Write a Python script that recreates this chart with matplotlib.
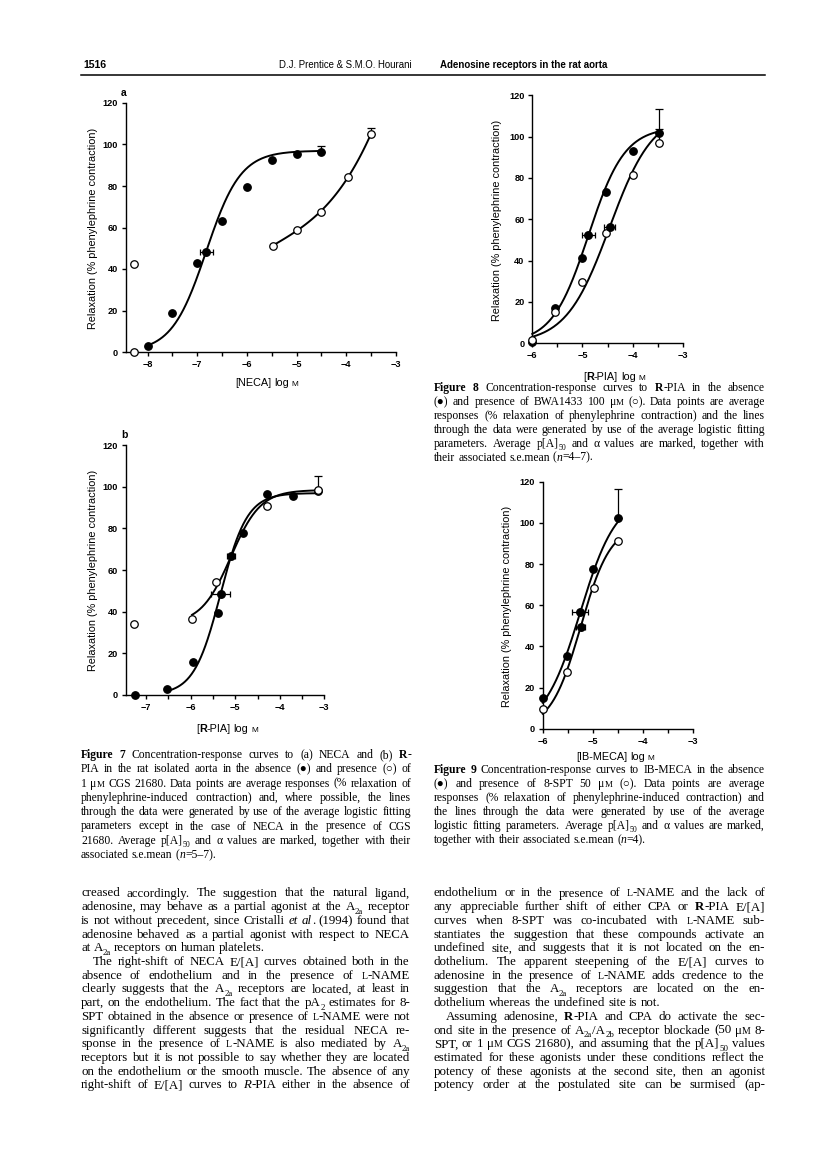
import re
import numpy as np
import matplotlib
matplotlib.use("Agg")
import matplotlib.pyplot as plt
from matplotlib.font_manager import FontProperties
from matplotlib.lines import Line2D

W, H = 816, 1157
SANS = ['Liberation Sans', 'DejaVu Sans']
SERIF = ['Liberation Serif', 'DejaVu Serif']

# ---- Figure 7a: NECA alone (filled) and with 1 uM CGS 21680 (open)
neca_x = [-8, -7.5, -7, -6.5, -6, -5.5, -5, -4.5]
neca_y = [2.9, 18.7, 42.9, 63.2, 79.5, 92.5, 95.4, 96.5]
neca_err_top = 2.9
neca_cgs_x = [-5.48, -4.99, -4.5, -3.97, -3.5]
neca_cgs_y = [51.2, 58.9, 67.7, 84.4, 105.2]
neca_cgs_err_top = 2.7
neca_cgs_basal_x = [-8.27, -8.27]
neca_cgs_basal_y = [0, 42.5]
neca_fit = dict(bottom=0, top=97, mid=-6.82, slope=1.25, lo=-8, hi=-4.5)
neca_p50 = (-6.82, 48.4, 0.13)

# ---- Figure 7b: R-PIA alone (filled) and with CGS 21680 (open)
rpia_x = [-7.25, -6.54, -5.95, -5.38, -4.82, -4.28, -3.70, -3.15]
rpia_y = [0, 2.7, 15.7, 39.4, 77.6, 96.4, 95.6, 98.0]
rpia_cgs_x = [-7.28, -5.97, -5.43, -4.28, -3.15]
rpia_cgs_y = [33.9, 36.6, 54.3, 90.9, 98.7]
rpia_cgs_err_top = 6.7
rpia_fit = dict(bottom=0, top=97, mid=-5.33, slope=1.45, lo=-6.54, hi=-3.15)
rpia_cgs_fit = dict(bottom=34, top=98.5, mid=-5.10, slope=1.3, lo=-5.97, hi=-3.15)
rpia_p50 = (-5.33, 48.5, 0.21)
rpia_cgs_p50 = (-5.10, 66.5, 0.09)

# ---- Figure 8: R-PIA alone (filled) and with BWA1433 (open)
f8_x = [-6, -5.55, -5.0, -4.52, -4.0, -3.48]
f8_y = [0.5, 16.9, 41.1, 73.2, 93.1, 101.6]
f8_err_top = 11.8
f8_bwa_x = [-6, -5.55, -5.0, -4.52, -3.99, -3.48]
f8_bwa_y = [1.6, 15.0, 29.8, 53.5, 81.5, 96.8]
f8_bwa_err_top = 6.7
f8_fit = dict(bottom=0, top=104.6, mid=-4.88, slope=1.2, lo=-6, hi=-3.48)
f8_bwa_fit = dict(bottom=0, top=112, mid=-4.46, slope=1.0, lo=-6, hi=-3.48)
f8_p50 = (-4.88, 52.3, 0.13)
f8_bwa_p50 = (-4.46, 56.5, 0.10)

# ---- Figure 9: IB-MECA alone (filled) and with 8-SPT (open)
f9_x = [-6, -5.52, -4.99, -4.49]
f9_y = [14.7, 35.5, 77.4, 102.3]
f9_err_top = 14.1
f9_spt_x = [-6, -5.52, -4.97, -4.49]
f9_spt_y = [9.4, 27.7, 68.3, 91.3]
f9_fit = dict(bottom=0, top=113, mid=-5.25, slope=1.2, lo=-6, hi=-4.49)
f9_spt_fit = dict(bottom=0, top=99.2, mid=-5.24, slope=1.45, lo=-6, hi=-4.49)
f9_p50 = (-5.25, 56.5, 0.16)
f9_spt_p50 = (-5.24, 49.6, 0.09)

YLABEL = 'Relaxation (% phenylephrine contraction)'

fig = plt.figure(figsize=(W / 100, H / 100), dpi=100)
fig.patch.set_facecolor('white')
renderer = fig.canvas.get_renderer()


def logistic(x, bottom, top, mid, slope):
    return bottom + (top - bottom) / (1 + 10 ** (slope * (mid - x)))


def fit_line(ax, p):
    xs = np.linspace(p['lo'], p['hi'], 200)
    ax.plot(xs, logistic(xs, p['bottom'], p['top'], p['mid'], p['slope']),
            color='k', lw=1.4, zorder=2, clip_on=False)


def dots(ax, x, y, filled):
    ax.plot(x, y, 'o', ms=5.4, mfc='k' if filled else 'white', mec='k',
            mew=0.9, zorder=4, clip_on=False)


def top_err(ax, x, y, e):
    ax.errorbar([x], [y], yerr=[[0], [e]], fmt='none', ecolor='k',
                elinewidth=0.9, capsize=3, capthick=0.9, zorder=3, clip_on=False)


def p50(ax, pt):
    ax.errorbar([pt[0]], [pt[1]], xerr=[pt[2]], fmt='o', ms=5.4, color='k',
                elinewidth=0.9, capsize=2.5, capthick=0.9, zorder=5, clip_on=False)


def make_axes(left, right, top, bottom, xlo):
    ax = fig.add_axes([left / W, 1 - bottom / H, (right - left) / W, (bottom - top) / H])
    ax.set_xlim(xlo, -3)
    ax.set_ylim(0, 120)
    for s in ('top', 'right'):
        ax.spines[s].set_visible(False)
    for s in ('left', 'bottom'):
        ax.spines[s].set_linewidth(1.0)
    ax.set_xticks(np.arange(np.ceil(xlo), -2.9, 1))
    ax.set_xticks(np.arange(np.ceil(xlo * 2) / 2, -2.9, 0.5), minor=True)
    ax.set_yticks(np.arange(0, 121, 20))
    ax.tick_params(which='both', direction='out', length=3.2, width=1.0, pad=2.5,
                   labelsize=6.6)
    for lab in ax.get_xticklabels() + ax.get_yticklabels():
        lab.set_fontfamily(SANS)
        lab.set_fontweight('bold')
    ax.patch.set_alpha(0)
    return ax


# ---------- rich text helper (pixel coordinates, baseline) ----------
TOKEN = re.compile(r'\{([bisc]):([^}]*)\}')


def runs(line):
    out, pos = [], 0
    for m in TOKEN.finditer(line):
        if m.start() > pos:
            out.append((line[pos:m.start()], 'r'))
        out.append((m.group(2), m.group(1)))
        pos = m.end()
    if pos < len(line):
        out.append((line[pos:], 'r'))
    return out


def words(line):
    ws = [[]]
    for txt, st in runs(line):
        for k, part in enumerate(txt.split(' ')):
            if k > 0:
                ws.append([])
            if part:
                ws[-1].append((part, st))
    return [w for w in ws if w]


def style(family, size, st):
    if st == 'b':
        return FontProperties(family=family, size=size, weight='bold'), 0
    if st == 'i':
        return FontProperties(family=family, size=size, style='italic'), 0
    if st == 's':
        return FontProperties(family=family, size=size * 0.68), size * 0.3
    if st == 'c':
        return FontProperties(family=family, size=size * 0.76), 0
    return FontProperties(family=family, size=size), 0


def draw_line(x0, y0, line, family=SERIF, size=8.2, width=None, indent=0, center=False):
    measured = []
    for w in words(line):
        items, wsum = [], 0
        for txt, st in w:
            fp, dy = style(family, size, st)
            t = fig.text(0, 0, txt, fontproperties=fp, va='baseline', ha='left')
            wd = t.get_window_extent(renderer).width
            items.append((t, wd, dy * 100 / 72))
            wsum += wd
        measured.append((items, wsum))
    total = sum(m[1] for m in measured)
    sp = size * 100 / 72 * 0.25
    if width is not None and len(measured) > 1:
        sp = (width - indent - total) / (len(measured) - 1)
    x = x0 + indent
    if center:
        x = x0 - (total + sp * (len(measured) - 1)) / 2
    for items, _ in measured:
        for t, wd, dy in items:
            t.set_position((x / W, 1 - (y0 + dy) / H))
            x += wd
        x += sp


def paragraph(x0, y0, lead, width, lines, size=8.2):
    for i, ln in enumerate(lines):
        if ln is None:
            continue
        last = ln.startswith('|')
        indent = 12 if ln.startswith('>') else 0
        ln = ln.lstrip('|>')
        draw_line(x0, y0 + i * lead, ln, SERIF, size,
                  width=None if last else width, indent=indent)


def ylabel(x, y):
    fig.text(x / W, 1 - y / H, YLABEL, rotation=90, ha='center', va='center',
             family=SANS, size=7.8)


# ---------------- header ----------------
fig.text(83 / W, 1 - 68 / H, '1516', family=SANS, weight='bold', size=7.6, va='baseline')
fig.text(279 / W, 1 - 68 / H, 'D.J. Prentice & S.M.O. Hourani', family=SANS, size=6.9,
         va='baseline')
fig.text(440 / W, 1 - 68 / H, 'Adenosine receptors in the rat aorta', family=SANS,
         weight='bold', size=7.0, va='baseline')
fig.add_artist(Line2D([81 / W, 765 / W], [1 - 75 / H, 1 - 75 / H], color='k', lw=1.1))

# ---------------- Figure 7a ----------------
ax = make_axes(125.7, 396, 103, 352, -8.44)
fit_line(ax, neca_fit)
c = np.polyfit(neca_cgs_x, neca_cgs_y, 3)
xs = np.linspace(neca_cgs_x[0], neca_cgs_x[-1], 100)
ax.plot(xs, np.polyval(c, xs), color='k', lw=1.4, zorder=2)
top_err(ax, neca_x[-1], neca_y[-1], neca_err_top)
top_err(ax, neca_cgs_x[-1], neca_cgs_y[-1], neca_cgs_err_top)
dots(ax, neca_x, neca_y, True)
dots(ax, neca_cgs_x, neca_cgs_y, False)
dots(ax, neca_cgs_basal_x, neca_cgs_basal_y, False)
p50(ax, neca_p50)
fig.text(121 / W, 1 - 96 / H, 'a', family=SANS, weight='bold', size=7.5, va='baseline')
ylabel(93, 228)
draw_line(267, 386, '[NECA] log {c:M}', SANS, 7.8, center=True)

# ---------------- Figure 7b ----------------
ax = make_axes(125.7, 324.3, 445.3, 694.7, -7.46)
fit_line(ax, rpia_fit)
fit_line(ax, rpia_cgs_fit)
top_err(ax, rpia_cgs_x[-1], rpia_cgs_y[-1], rpia_cgs_err_top)
dots(ax, rpia_x, rpia_y, True)
dots(ax, rpia_cgs_x, rpia_cgs_y, False)
p50(ax, rpia_p50)
p50(ax, rpia_cgs_p50)
fig.text(121 / W, 1 - 438 / H, 'b', family=SANS, weight='bold', size=7.5, va='baseline')
ylabel(93, 570)
draw_line(227, 732, '[{b:R}-PIA] log {c:M}', SANS, 7.8, center=True)

# ---------------- Figure 8 ----------------
ax = make_axes(532.3, 682.7, 95.3, 343.3, -6)
fit_line(ax, f8_fit)
fit_line(ax, f8_bwa_fit)
top_err(ax, f8_x[-1], f8_y[-1], f8_err_top)
top_err(ax, f8_bwa_x[-1], f8_bwa_y[-1], f8_bwa_err_top)
dots(ax, f8_x, f8_y, True)
dots(ax, f8_bwa_x, f8_bwa_y, False)
p50(ax, f8_p50)
p50(ax, f8_bwa_p50)
ylabel(497, 220)
draw_line(614, 380, '[{b:R}-PIA] log {c:M}', SANS, 7.8, center=True)

# ---------------- Figure 9 ----------------
ax = make_axes(542.7, 692.7, 481.7, 728.7, -6)
fit_line(ax, f9_fit)
fit_line(ax, f9_spt_fit)
top_err(ax, f9_x[-1], f9_y[-1], f9_err_top)
dots(ax, f9_x, f9_y, True)
dots(ax, f9_spt_x, f9_spt_y, False)
p50(ax, f9_p50)
p50(ax, f9_spt_p50)
ylabel(507, 606)
draw_line(615, 760, '[IB-MECA] log {c:M}', SANS, 7.8, center=True)

# ---------------- captions ----------------
cap7 = [
    '{b:Figure 7}  Concentration-response curves to (a) NECA and (b) {b:R}-',
    'PIA in the rat isolated aorta in the absence (\u25cf) and presence (\u25cb) of',
    '1 \u03bc{c:M} CGS 21680. Data points are average responses (% relaxation of',
    'phenylephrine-induced contraction) and, where possible, the lines',
    'through the data were generated by use of the average logistic fitting',
    'parameters except in the case of NECA in the presence of CGS',
    '21680. Average p[A]{s:50} and \u03b1 values are marked, together with their',
    '|associated s.e.mean ({i:n}=5\u20137).',
]
paragraph(81, 758, 14.3, 330, cap7, size=8.4)

cap8 = [
    '{b:Figure 8}  Concentration-response curves to {b:R}-PIA in the absence',
    '(\u25cf) and presence of BWA1433 100 \u03bc{c:M} (\u25cb). Data points are average',
    'responses (% relaxation of phenylephrine contraction) and the lines',
    'through the data were generated by use of the average logistic fitting',
    'parameters. Average p[A]{s:50} and \u03b1 values are marked, together with',
    '|their associated s.e.mean ({i:n}=4\u20137).',
]
paragraph(434, 391, 13.9, 331, cap8, size=8.4)

cap9 = [
    '{b:Figure 9}  Concentration-response curves to IB-MECA in the absence',
    '(\u25cf) and presence of 8-SPT 50 \u03bc{c:M} (\u25cb). Data points are average',
    'responses (% relaxation of phenylephrine-induced contraction) and',
    'the lines through the data were generated by use of the average',
    'logistic fitting parameters. Average p[A]{s:50} and \u03b1 values are marked,',
    '|together with their associated s.e.mean ({i:n}=4).',
]
paragraph(434, 773, 14.0, 331, cap9, size=8.4)

# ---------------- body text ----------------
left_col = [
    'creased accordingly. The suggestion that the natural ligand,',
    'adenosine, may behave as a partial agonist at the A{s:2a} receptor',
    'is not without precedent, since Cristalli {i:et al}. (1994) found that',
    'adenosine behaved as a partial agonist with respect to NECA',
    '|at A{s:2a} receptors on human platelets.',
    '>The right-shift of NECA E/[A] curves obtained both in the',
    'absence of endothelium and in the presence of {c:L}-NAME',
    'clearly suggests that the A{s:2a} receptors are located, at least in',
    'part, on the endothelium. The fact that the pA{s:2} estimates for 8-',
    'SPT obtained in the absence or presence of {c:L}-NAME were not',
    'significantly different suggests that the residual NECA re-',
    'sponse in the presence of {c:L}-NAME is also mediated by A{s:2a}',
    'receptors but it is not possible to say whether they are located',
    'on the endothelium or the smooth muscle. The absence of any',
    'right-shift of E/[A] curves to {i:R}-PIA either in the absence of',
]
right_col = [
    'endothelium or in the presence of {c:L}-NAME and the lack of',
    'any appreciable further shift of either CPA or {b:R}-PIA E/[A]',
    'curves when 8-SPT was co-incubated with {c:L}-NAME sub-',
    'stantiates the suggestion that these compounds activate an',
    'undefined site, and suggests that it is not located on the en-',
    'dothelium. The apparent steepening of the E/[A] curves to',
    'adenosine in the presence of {c:L}-NAME adds credence to the',
    'suggestion that the A{s:2a} receptors are located on the en-',
    '|dothelium whereas the undefined site is not.',
    '>Assuming adenosine, {b:R}-PIA and CPA do activate the sec-',
    'ond site in the presence of A{s:2a}/A{s:2b} receptor blockade (50 \u03bc{c:M} 8-',
    'SPT, or 1 \u03bc{c:M} CGS 21680), and assuming that the p[A]{s:50} values',
    'estimated for these agonists under these conditions reflect the',
    'potency of these agonists at the second site, then an agonist',
    'potency order at the postulated site can be surmised (ap-',
]
paragraph(81, 896.5, 13.71, 329, left_col, size=9.3)
paragraph(434, 896.5, 13.71, 331, right_col, size=9.3)

fig.savefig('out.png', dpi=100, facecolor='white')
